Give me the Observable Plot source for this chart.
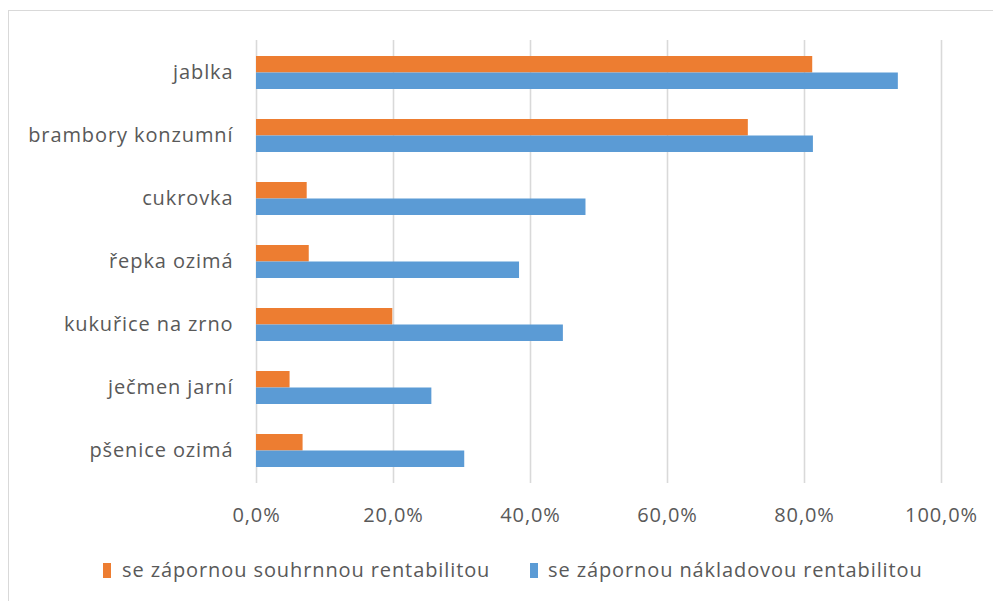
<!DOCTYPE html>
<html>
<head>
<meta charset="utf-8">
<script src="https://cdn.jsdelivr.net/npm/d3@7"></script>
<script src="https://cdn.jsdelivr.net/npm/@observablehq/plot@0.6"></script>
<style>
  html, body { margin: 0; padding: 0; background: #fff; overflow: hidden; }
  body { width: 993px; height: 601px; position: relative; font-family: "Open Sans", sans-serif; }
  #frame { position: absolute; left: 8px; top: 10px; width: 1100px; height: 700px; border: 1px solid #d9d9d9; box-sizing: border-box; }
  #chart { position: absolute; left: 0; top: 0; }
  #legend { position: absolute; left: 0; top: 558px; width: 993px; height: 24px; font-size: 20px; color: #595959; letter-spacing: 0.9px; }
  .item { position: absolute; top: 0; white-space: nowrap; line-height: 24px; }
  .sw { position: absolute; top: 5px; width: 8px; height: 15px; }
</style>
</head>
<body>
<div id="frame"></div>
<div id="chart"></div>
<div id="legend"></div>
<script>
const categories = ["jablka", "brambory konzumní", "cukrovka", "řepka ozimá", "kukuřice na zrno", "ječmen jarní", "pšenice ozimá"];
const seriesNames = ["se zápornou souhrnnou rentabilitou", "se zápornou nákladovou rentabilitou"];
const souhrnna = [81.2, 71.8, 7.4, 7.7, 19.9, 4.9, 6.8];
const nakladova = [93.7, 81.3, 48.1, 38.4, 44.8, 25.6, 30.4];
const xTicks = [0, 20, 40, 60, 80, 100];
const colors = ["#ED7D31", "#5B9BD5"];

const dataA = categories.map((c, i) => ({category: c, value: souhrnna[i]}));
const dataB = categories.map((c, i) => ({category: c, value: nakladova[i]}));

const fmt = v => v.toFixed(1).replace(".", ",") + "%";

const chart = Plot.plot({
  width: 993,
  height: 540,
  marginLeft: 256,
  marginRight: 52,
  marginTop: 40,
  marginBottom: 57,
  style: {fontFamily: "Open Sans, sans-serif", fontSize: "20px", color: "#595959", background: "transparent"},
  x: {domain: [0, 100], ticks: xTicks, tickFormat: fmt, tickSize: 0, tickPadding: 24, label: null},
  y: {domain: categories, paddingInner: 0.478, paddingOuter: 0.245, tickSize: 0, tickPadding: 23, label: null},
  marks: [
    Plot.ruleX(xTicks, {stroke: "#d9d9d9", strokeWidth: 1.6}),
    Plot.barX(dataA, {y: "category", x: "value", fill: colors[0], insetBottom: 16.5}),
    Plot.barX(dataB, {y: "category", x: "value", fill: colors[1], insetTop: 16.5})
  ]
});
chart.querySelectorAll("text").forEach(t => t.setAttribute("letter-spacing", "0.9"));
document.getElementById("chart").appendChild(chart);

const legend = document.getElementById("legend");
const legendPos = [[103, 122], [530, 548]];
seriesNames.forEach((name, i) => {
  const sw = document.createElement("div");
  sw.className = "sw";
  sw.style.left = legendPos[i][0] + "px";
  sw.style.background = colors[i];
  legend.appendChild(sw);
  const item = document.createElement("div");
  item.className = "item";
  item.style.left = legendPos[i][1] + "px";
  item.textContent = name;
  legend.appendChild(item);
});
</script>
</body>
</html>
